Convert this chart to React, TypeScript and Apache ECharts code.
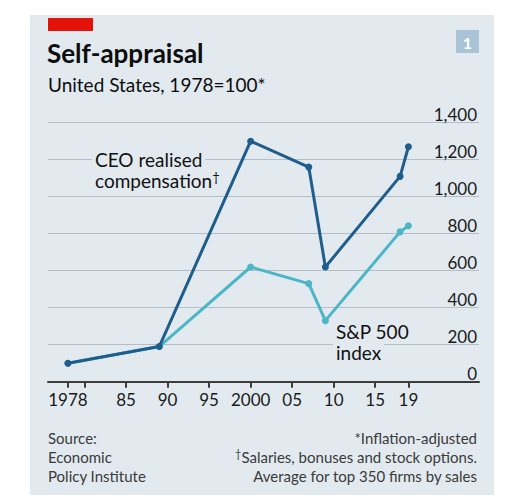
import React, { useEffect, useRef } from "react";
import * as echarts from "echarts";

const years = [1978, 1989, 2000, 2007, 2009, 2018, 2019];
const ceoComp = [100, 190, 1300, 1160, 620, 1110, 1270];
const sp500 = [100, 190, 620, 530, 330, 810, 843];
const tickYears = [1978, 1980, 1985, 1990, 1995, 2000, 2005, 2010, 2015, 2019];
const labelYears = [1978, 1985, 1990, 1995, 2000, 2005, 2010, 2015, 2019];
const yearLabels: Record<number, string> = {
  1978: "1978", 1985: "85", 1990: "90", 1995: "95", 2000: "2000",
  2005: "05", 2010: "10", 2015: "15", 2019: "19",
};

const FONT = "Lato";
const PANEL = "#e2eaf0";
const DARK = "#1f5d8c";
const LIGHT = "#4db6c6";

export default function App() {
  const ref = useRef<HTMLDivElement>(null);
  useEffect(() => {
    const chart = echarts.init(ref.current!, null, { renderer: "svg" });
    const pair = (ys: number[]) => years.map((y, i) => [y, ys[i]]);
    chart.setOption({
      animation: false,
      backgroundColor: "#ffffff",
      textStyle: { fontFamily: FONT },
      grid: { left: 48, right: 48, top: 122.7, bottom: 117.3 },
      xAxis: {
        type: "value",
        min: 1975.6,
        max: 2027.5,
        splitLine: { show: false },
        axisLine: { show: true, lineStyle: { color: "#3d3d3d", width: 2 } },
        axisTick: {
          show: true,
          customValues: tickYears,
          length: 6,
          lineStyle: { color: "#3d3d3d", width: 2 },
        },
        axisLabel: {
          customValues: labelYears,
          formatter: (v: number) => yearLabels[v] ?? "",
          fontFamily: FONT,
          fontSize: 17,
          color: "#1a1a1a",
          margin: 9,
        },
      },
      yAxis: {
        type: "value",
        position: "right",
        min: 0,
        max: 1400,
        interval: 200,
        axisLine: { show: false },
        axisTick: { show: false },
        splitLine: { show: true, lineStyle: { color: "#b3bec6", width: 1 } },
        axisLabel: {
          inside: true,
          margin: 2,
          verticalAlign: "bottom",
          fontFamily: FONT,
          fontSize: 17,
          color: "#1a1a1a",
          formatter: (v: number) => v.toLocaleString("en-US"),
        },
      },
      series: [
        {
          name: "S&P 500 index",
          type: "line",
          data: pair(sp500),
          symbol: "circle",
          symbolSize: 7,
          lineStyle: { color: LIGHT, width: 3 },
          itemStyle: { color: LIGHT },
          z: 3,
        },
        {
          name: "CEO realised compensation",
          type: "line",
          data: pair(ceoComp),
          symbol: "circle",
          symbolSize: 7,
          lineStyle: { color: DARK, width: 3 },
          itemStyle: { color: DARK },
          z: 4,
        },
      ],
      graphic: [
        { type: "rect", z: -10, shape: { x: 30, y: 15, width: 464, height: 480 }, style: { fill: PANEL } },
        { type: "rect", z: 10, shape: { x: 48, y: 18, width: 45, height: 13 }, style: { fill: "#e3120b" } },
        { type: "rect", z: 10, shape: { x: 456, y: 30, width: 23, height: 23 }, style: { fill: "#a9c3d7" } },
        { type: "text", z: 11, x: 467.5, y: 42, style: { text: "1", fill: "#ffffff", font: `bold 16px ${FONT}`, align: "center", verticalAlign: "middle" } },
        { type: "text", z: 10, x: 47, y: 53, style: { text: "Self-appraisal", fill: "#0d0d0d", font: `bold 26px ${FONT}`, verticalAlign: "middle" } },
        { type: "text", z: 10, x: 48, y: 84, style: { text: "United States, 1978=100*", fill: "#0d0d0d", font: `19px ${FONT}`, verticalAlign: "middle" } },
        {
          type: "text", z: 10, x: 92, y: 159.5,
          style: { text: "CEO realised", fill: "#111111", font: `19px ${FONT}`, lineHeight: 19, verticalAlign: "middle", backgroundColor: PANEL, padding: [0, 3, 0, 3] },
        },
        {
          type: "text", z: 10, x: 95, y: 180.5,
          style: {
            text: "{a|compensation}{b|†}",
            verticalAlign: "middle",
            rich: {
              a: { fontFamily: FONT, fontSize: 19, fill: "#111111", lineHeight: 20 },
              b: { fontFamily: FONT, fontSize: 13, fill: "#111111", lineHeight: 20, verticalAlign: "top" },
            },
          },
        },
        {
          type: "text", z: 10, x: 333, y: 331,
          style: { text: "S&P 500", fill: "#111111", font: `19px ${FONT}`, lineHeight: 19, verticalAlign: "middle", backgroundColor: PANEL, padding: [1, 6, 1, 3] },
        },
        {
          type: "text", z: 10, x: 333, y: 352.5,
          style: { text: "index", fill: "#111111", font: `19px ${FONT}`, lineHeight: 19, verticalAlign: "middle", backgroundColor: PANEL, padding: [0, 3, 0, 3] },
        },
        { type: "text", z: 10, x: 48, y: 437.5, style: { text: "Source:", fill: "#3a3a3a", font: `15px ${FONT}`, verticalAlign: "middle" } },
        { type: "text", z: 10, x: 48, y: 456.5, style: { text: "Economic", fill: "#3a3a3a", font: `15px ${FONT}`, verticalAlign: "middle" } },
        { type: "text", z: 10, x: 48, y: 475.5, style: { text: "Policy Institute", fill: "#3a3a3a", font: `15px ${FONT}`, verticalAlign: "middle" } },
        { type: "text", z: 10, x: 477, y: 437.5, style: { text: "*Inflation-adjusted", fill: "#3a3a3a", font: `15px ${FONT}`, align: "right", verticalAlign: "middle" } },
        {
          type: "text", z: 10, x: 477, y: 456.5,
          style: {
            text: "{d|†}{n|Salaries, bonuses and stock options.}",
            align: "right",
            verticalAlign: "middle",
            rich: {
              d: { fontFamily: FONT, fontSize: 11, fill: "#3a3a3a", verticalAlign: "top", lineHeight: 17 },
              n: { fontFamily: FONT, fontSize: 15, fill: "#3a3a3a", lineHeight: 17 },
            },
          },
        },
        { type: "text", z: 10, x: 477, y: 475.5, style: { text: "Average for top 350 firms by sales", fill: "#3a3a3a", font: `15px ${FONT}`, align: "right", verticalAlign: "middle" } },
      ],
    });
    return () => chart.dispose();
  }, []);
  return <div ref={ref} style={{ position: "fixed", left: 0, top: 0, width: 527, height: 499 }} />;
}
